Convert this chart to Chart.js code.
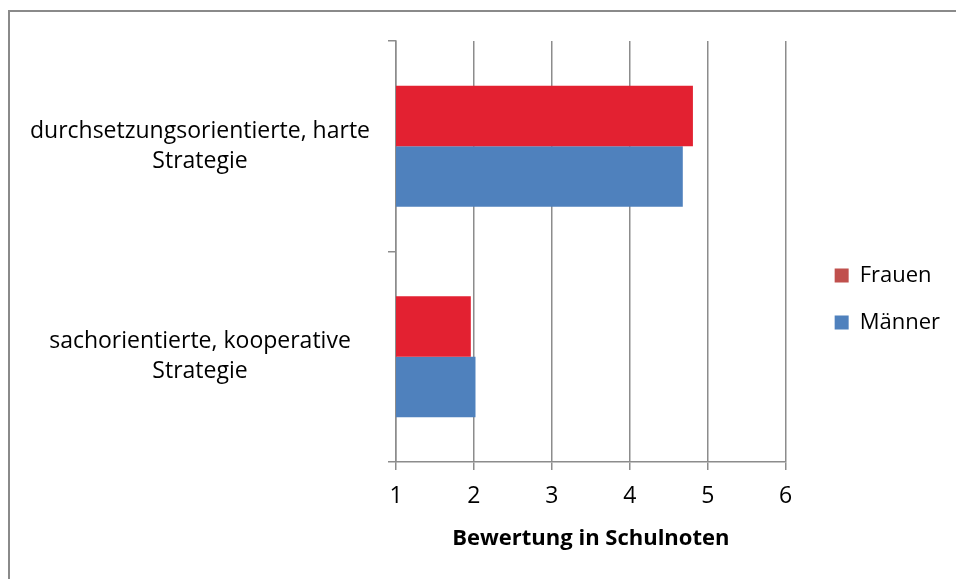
<!DOCTYPE html>
<html>
<head>
<meta charset="utf-8">
<script src="https://cdn.jsdelivr.net/npm/chart.js@4.4.0/dist/chart.umd.min.js"></script>
<style>
  html, body { margin: 0; padding: 0; background: #fff; overflow: hidden; }
  #wrap { position: relative; width: 956px; height: 579px; }
  #frame { position: absolute; left: 8px; top: 10px; width: 2000px; height: 2000px; border: 2px solid #8a8a8a; pointer-events: none; }
  canvas { position: absolute; left: 0; top: 0; }
</style>
</head>
<body>
<div id="wrap">
  <canvas id="chart" width="956" height="579"></canvas>
  <div id="frame"></div>
</div>
<script>
// Kategorien (von oben nach unten)
const kategorien = [
  ['durchsetzungsorientierte, harte', 'Strategie'],
  ['sachorientierte, kooperative', 'Strategie']
];
const frauen = [4.81, 1.96];
const maenner = [4.68, 2.02];
const xTicks = [1, 2, 3, 4, 5, 6];
const achsenTitel = 'Bewertung in Schulnoten';

const farbeFrauen = '#e32131';
const farbeMaenner = '#4f81bd';
const legendeFrauen = '#c0504d';
const legendeMaenner = '#4f81bd';
const grau = '#8c8c8c';
const schrift = '"Open Sans", sans-serif';

document.addEventListener('DOMContentLoaded', function () {
  const ctx = document.getElementById('chart').getContext('2d');

  new Chart(ctx, {
    type: 'bar',
    data: {
      labels: kategorien,
      datasets: [
        { label: 'Frauen', data: frauen, backgroundColor: farbeFrauen, borderWidth: 0 },
        { label: 'Männer', data: maenner, backgroundColor: farbeMaenner, borderWidth: 0 }
      ]
    },
    options: {
      indexAxis: 'y',
      responsive: false,
      animation: false,
      categoryPercentage: 0.575,
      barPercentage: 1,
      layout: { padding: { top: 41, bottom: 22, left: 0, right: 6 } },
      plugins: {
        tooltip: { enabled: false },
        legend: {
          position: 'right',
          labels: {
            boxWidth: 14,
            boxHeight: 14,
            padding: 25,
            color: '#000',
            font: { family: schrift, size: 22 },
            generateLabels: function (chart) {
              const farben = [legendeFrauen, legendeMaenner];
              return chart.data.datasets.map((ds, i) => ({
                text: ds.label,
                fillStyle: farben[i],
                strokeStyle: farben[i],
                lineWidth: 0,
                fontColor: '#000',
                datasetIndex: i
              }));
            }
          }
        }
      },
      scales: {
        x: {
          min: 1,
          max: 6,
          afterBuildTicks: function (scale) { scale.ticks = xTicks.map(v => ({ value: v })); },
          afterFit: function (scale) { scale.height = 95; },
          grid: { color: grau, lineWidth: 1.5, tickLength: 8, drawTicks: true },
          border: { color: grau, width: 1.5 },
          ticks: { color: '#000', padding: 13, font: { family: schrift, size: 23 } },
          title: {
            display: true,
            text: achsenTitel,
            color: '#000',
            padding: { top: 14, bottom: 5 },
            font: { family: schrift, size: 22, weight: 'bold' }
          }
        },
        y: {
          afterFit: function (scale) {
            scale.width = 396;
            scale.paddingTop = 0;
            scale.paddingBottom = 0;
          },
          grid: { color: grau, lineWidth: 1.5, drawOnChartArea: false, tickLength: 8, offset: true },
          border: { color: grau, width: 1.5 },
          ticks: { color: '#000', padding: 18, crossAlign: 'center', font: { family: schrift, size: 23, lineHeight: 1.3 } }
        },
        abstand: {
          type: 'category',
          position: 'right',
          axis: 'y',
          labels: kategorien,
          afterFit: function (scale) { scale.width = 24; },
          grid: { display: false },
          border: { display: false },
          ticks: { display: false }
        }
      }
    }
  });
});
</script>
</body>
</html>
